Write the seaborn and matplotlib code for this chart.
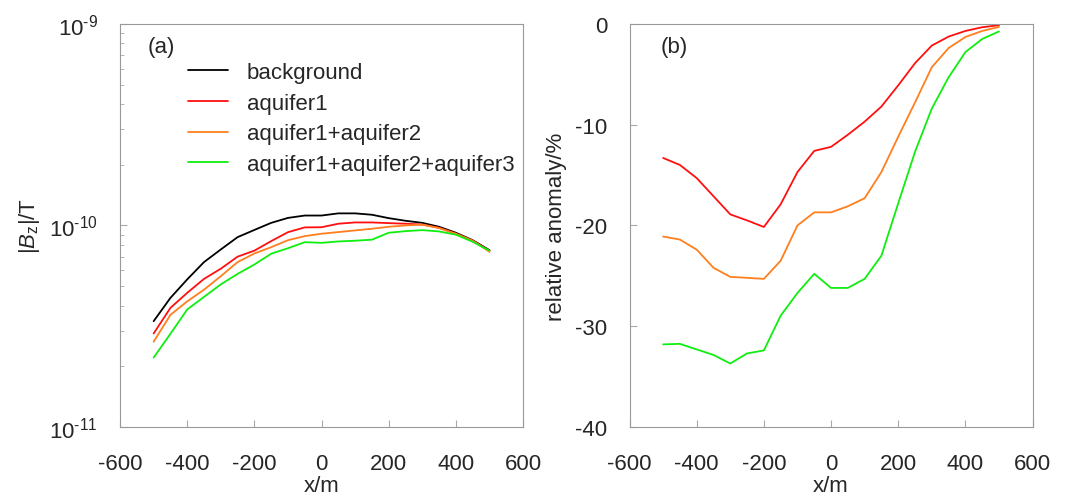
import numpy as np
import pandas as pd
import matplotlib
matplotlib.use('Agg')
import matplotlib.pyplot as plt
from matplotlib.ticker import FuncFormatter
import seaborn as sns

# x positions along the profile (m)
x_m = [-500, -450, -400, -350, -300, -250, -200, -150, -100, -50, 0,
       50, 100, 150, 200, 250, 300, 350, 400, 450, 500]

series_names = ["background", "aquifer1", "aquifer1+aquifer2",
                "aquifer1+aquifer2+aquifer3"]
series_colors = ["#000000", "#ff1010", "#ff7f1e", "#10ee10"]

# |Bz| in units of 1e-11 T
bz_background = [3.35, 4.37, 5.4, 6.58, 7.6, 8.75, 9.5, 10.3, 10.9, 11.2, 11.2,
                 11.48, 11.48, 11.3, 10.87, 10.55, 10.3, 9.85, 9.2, 8.45, 7.54]
bz_aquifer1 = [2.91, 3.9, 4.63, 5.43, 6.1, 7.0, 7.5, 8.36, 9.26, 9.78, 9.8,
               10.2, 10.35, 10.35, 10.27, 10.2, 10.1, 9.74, 9.1, 8.4, 7.5]
bz_aquifer12 = [2.65, 3.6, 4.2, 4.8, 5.6, 6.58, 7.26, 7.8, 8.45, 8.85, 9.1,
                9.27, 9.45, 9.63, 9.85, 10.0, 10.1, 9.7, 9.1, 8.4, 7.4]
bz_aquifer123 = [2.21, 2.9, 3.83, 4.42, 5.1, 5.75, 6.4, 7.24, 7.71, 8.26, 8.2,
                 8.33, 8.4, 8.5, 9.2, 9.37, 9.48, 9.34, 9.0, 8.3, 7.5]

# relative anomaly (%)
ra_aquifer1 = [-13.3, -14.0, -15.3, -17.1, -18.9, -19.5, -20.15, -17.9, -14.7,
               -12.6, -12.2, -11.0, -9.7, -8.2, -6.1, -3.9, -2.15, -1.26, -0.7,
               -0.33, -0.13]
ra_aquifer12 = [-21.1, -21.4, -22.4, -24.2, -25.1, -25.2, -25.3, -23.5, -20.0,
                -18.7, -18.7, -18.1, -17.3, -14.7, -11.2, -7.8, -4.3, -2.4,
                -1.3, -0.7, -0.3]
ra_aquifer123 = [-31.8, -31.75, -32.3, -32.85, -33.7, -32.7, -32.4, -28.95,
                 -26.7, -24.8, -26.2, -26.2, -25.3, -23.0, -17.8, -12.7, -8.4,
                 -5.3, -2.8, -1.5, -0.75]

sns.set_style("ticks")
plt.rcParams['font.family'] = ['Liberation Sans', 'DejaVu Sans']
plt.rcParams['mathtext.fontset'] = 'custom'
plt.rcParams['mathtext.rm'] = 'Liberation Sans'
plt.rcParams['mathtext.it'] = 'Liberation Sans:italic'
plt.rcParams['axes.unicode_minus'] = False
FS = 16

df_bz = pd.DataFrame({
    'x': x_m * 4,
    'bz': np.array(bz_background + bz_aquifer1 + bz_aquifer12 + bz_aquifer123) * 1e-11,
    'model': sum([[n] * len(x_m) for n in series_names], []),
})
df_ra = pd.DataFrame({
    'x': x_m * 3,
    'ra': ra_aquifer1 + ra_aquifer12 + ra_aquifer123,
    'model': sum([[n] * len(x_m) for n in series_names[1:]], []),
})

fig = plt.figure(figsize=(10.69, 5.02), dpi=100)
ax1 = fig.add_axes([0.1123, 0.1474, 0.377, 0.803])
ax2 = fig.add_axes([0.5889, 0.1474, 0.377, 0.803])

pal = dict(zip(series_names, series_colors))
sns.lineplot(data=df_bz, x='x', y='bz', hue='model', palette=pal,
             hue_order=series_names, linewidth=1.3, ax=ax1)
sns.lineplot(data=df_ra, x='x', y='ra', hue='model', palette=pal,
             hue_order=series_names[1:], linewidth=1.3, ax=ax2, legend=False)


def pow10(v, pos):
    e = int(round(np.log10(v)))
    return r'10$^{\text{-}%d}$' % abs(e) if e < 0 else r'10$^{%d}$' % e


ax1.set_yscale('log')
ax1.set_ylim(1e-11, 1e-9)
ax1.set_yticks([1e-11, 1e-10, 1e-9])
ax1.yaxis.set_major_formatter(FuncFormatter(pow10))
ax1.set_xlim(-600, 600)
ax1.set_xticks(range(-600, 601, 200))
ax1.set_xlabel('x/m', fontsize=FS)
ax1.set_ylabel(r'|$B_\mathrm{z}$|/T', fontsize=FS)
ax1.yaxis.set_label_coords(-0.194, 0.5)
ax1.xaxis.set_label_coords(0.5, -0.118)
ax1.text(0.069, 0.945, '(a)', transform=ax1.transAxes, fontsize=FS, va='center')
ax1.legend(loc='upper left', bbox_to_anchor=(0.169, 0.905), frameon=False,
           handlelength=1.8, handletextpad=0.85, labelspacing=0.43,
           fontsize=FS, borderaxespad=0, borderpad=0)

ax2.set_xlim(-600, 600)
ax2.set_ylim(-40, 0)
ax2.set_xticks(range(-600, 601, 200))
ax2.set_yticks(range(-40, 1, 10))
ax2.set_xlabel('x/m', fontsize=FS)
ax2.set_ylabel('relative anomaly/%', fontsize=FS)
ax2.yaxis.set_label_coords(-0.155, 0.5)
ax2.xaxis.set_label_coords(0.5, -0.118)
ax2.text(0.076, 0.945, '(b)', transform=ax2.transAxes, fontsize=FS, va='center')

for ax in (ax1, ax2):
    for s in ax.spines.values():
        s.set_color('#999999')
        s.set_linewidth(0.8)
    ax.tick_params(which='both', direction='in', color='#aaaaaa', labelsize=FS)
    ax.tick_params(which='major', length=5)
    ax.tick_params(which='minor', length=3)
    ax.tick_params(axis='x', pad=19)
    ax.tick_params(axis='y', pad=16)

fig.savefig('out.png', dpi=100)
